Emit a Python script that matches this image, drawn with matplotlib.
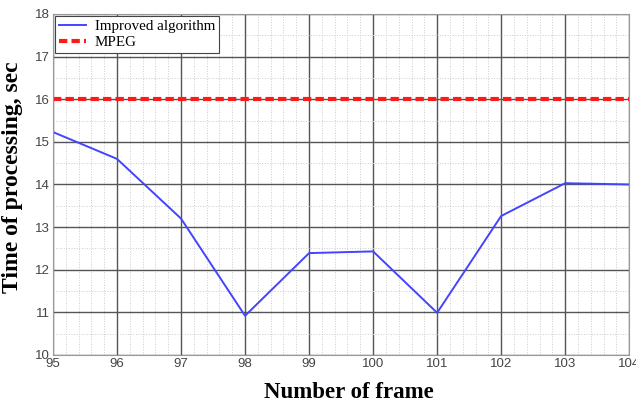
import matplotlib
matplotlib.use("Agg")
import matplotlib.pyplot as plt
from matplotlib.ticker import MultipleLocator

frames = [95, 96, 97, 98, 99, 100, 101, 102, 103, 104]
improved = [15.23, 14.60, 13.20, 10.92, 12.39, 12.43, 10.99, 13.26, 14.03, 14.00]
mpeg = [16.0] * len(frames)

fig = plt.figure(figsize=(6.36, 4.05), dpi=100)
ax = fig.add_axes([0.0833, 0.1235, 0.906, 0.842])

ax.plot(frames, improved, color="#4444ff", linewidth=1.4, label="Improved algorithm")
ax.plot(frames, mpeg, color="#ff1a1a", linewidth=3, linestyle=(0, (2, 1)), label="MPEG")

ax.set_xlim(95, 104)
ax.set_ylim(10, 18)
ax.xaxis.set_major_locator(MultipleLocator(1))
ax.xaxis.set_minor_locator(MultipleLocator(0.2))
ax.yaxis.set_major_locator(MultipleLocator(1))
ax.yaxis.set_minor_locator(MultipleLocator(0.5))

ax.grid(which="major", color="#555555", linewidth=1.0)
ax.grid(which="minor", color="#cccccc", linewidth=0.7, linestyle=":")
ax.set_axisbelow(True)

for s in ax.spines.values():
    s.set_color("#999999")
ax.tick_params(which="both", length=0, colors="#444444", labelsize=9.5, pad=2)
for lab in ax.get_xticklabels() + ax.get_yticklabels():
    lab.set_family("Liberation Sans")

ax.set_xlabel("Number of frame", fontsize=16.5, fontweight="bold",
              family="Liberation Serif")
ax.set_ylabel("Time of processing, sec", fontsize=17, fontweight="bold",
              family="Liberation Serif")
ax.xaxis.set_label_coords(0.514, -0.078)
ax.yaxis.set_label_coords(-0.052, 0.52)

leg = ax.legend(loc="upper left", prop={"family": "Liberation Serif", "size": 10.8},
                fancybox=False, framealpha=1, edgecolor="#444444",
                borderaxespad=0.15, handlelength=1.8, borderpad=0.25, labelspacing=0.15,
                handletextpad=0.6)
leg.get_frame().set_linewidth(0.8)

fig.savefig("out.png", dpi=100)
